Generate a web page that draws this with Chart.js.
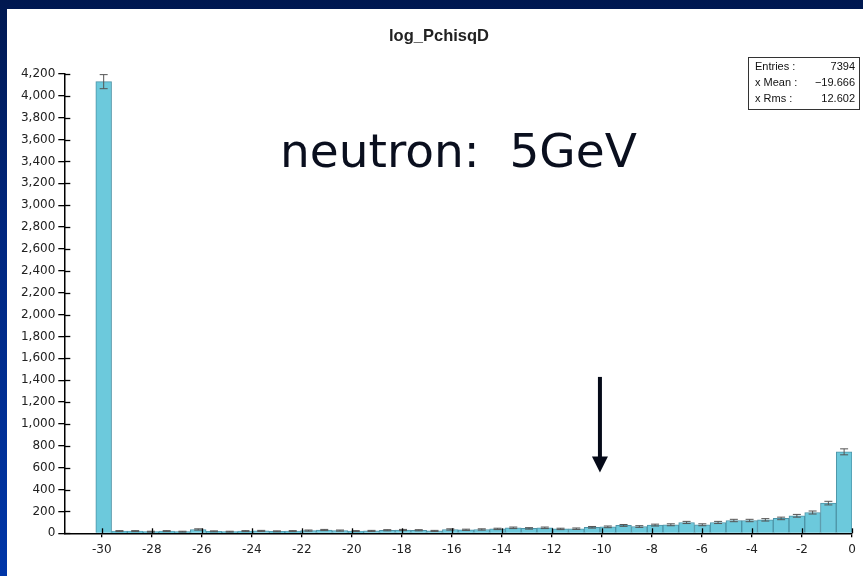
<!DOCTYPE html>
<html>
<head>
<meta charset="utf-8">
<script src="https://cdn.jsdelivr.net/npm/chart.js@4/dist/chart.umd.min.js"></script>
<style>
  html,body{margin:0;padding:0;}
  body{width:863px;height:576px;overflow:hidden;position:relative;
       background:linear-gradient(to bottom,#001850 0%,#00267e 40%,#0036a8 100%);}
  #wrap{position:absolute;left:7px;top:9px;width:856px;height:567px;background:#fff;}
  canvas{display:block;}
</style>
</head>
<body>
<div id="wrap"><canvas id="c" width="856" height="567"></canvas></div>
<script>
// ---- data ----
const binCenters = [-29.925,-29.295,-28.665,-28.035,-27.405,-26.775,-26.145,-25.515,-24.885,-24.255,
  -23.625,-22.995,-22.365,-21.735,-21.105,-20.475,-19.845,-19.215,-18.585,-17.955,
  -17.325,-16.695,-16.065,-15.435,-14.805,-14.175,-13.545,-12.915,-12.285,-11.655,
  -11.025,-10.395,-9.765,-9.135,-8.505,-7.875,-7.245,-6.615,-5.985,-5.355,
  -4.725,-4.095,-3.465,-2.835,-2.205,-1.575,-0.945,-0.315];
const counts = [4130,20,20,15,20,15,35,18,15,20,
  22,18,20,25,30,25,20,22,28,30,
  28,22,35,32,35,40,50,45,50,40,
  42,55,59,72,62,75,78,99,78,99,
  117,117,123,136,160,190,276,745];
const xTicks = [-30,-28,-26,-24,-22,-20,-18,-16,-14,-12,-10,-8,-6,-4,-2,0];
const yTicks = [0,200,400,600,800,1000,1200,1400,1600,1800,2000,2200,2400,2600,2800,3000,3200,3400,3600,3800,4000,4200];
const titleText = 'log_PchisqD';
const statsLabels = ['Entries :','x Mean :','x Rms :'];
const statsValues = ['7394','\u221219.666','12.602'];
const noteText = 'neutron:  5GeV';
const arrowX = -10.08, arrowTop = 1430, arrowTip = 555;

const FONT = '"DejaVu Sans", Verdana, sans-serif';

const extras = {
  id:'extras',
  afterDatasetsDraw(chart){
    const ctx = chart.ctx, xs = chart.scales.x, ys = chart.scales.y;
    ctx.save();
    // error bars
    ctx.strokeStyle = '#555'; ctx.lineWidth = 1;
    binCenters.forEach((c,i)=>{
      const n = counts[i]; if(!n) return;
      const e = Math.sqrt(n);
      const px = xs.getPixelForValue(c);
      const y1 = ys.getPixelForValue(n+e), y2 = ys.getPixelForValue(n-e);
      ctx.beginPath();
      ctx.moveTo(px,y1); ctx.lineTo(px,y2);
      ctx.moveTo(px-4,y1); ctx.lineTo(px+4,y1);
      ctx.moveTo(px-4,y2); ctx.lineTo(px+4,y2);
      ctx.stroke();
    });
    // inner tick parts
    ctx.strokeStyle = '#000'; ctx.lineWidth = 1.3;
    const ax = xs.left, ay = ys.bottom;
    yTicks.forEach(v=>{
      const py = Math.round(ys.getPixelForValue(v))+0.5;
      ctx.beginPath(); ctx.moveTo(ax,py); ctx.lineTo(ax+6,py); ctx.stroke();
    });
    xTicks.forEach(v=>{
      const px = Math.round(xs.getPixelForValue(v))+0.5;
      ctx.beginPath(); ctx.moveTo(px,ay); ctx.lineTo(px,ay-5); ctx.stroke();
    });
    // arrow
    const axp = xs.getPixelForValue(arrowX);
    const yt = ys.getPixelForValue(arrowTop), yp = ys.getPixelForValue(arrowTip);
    ctx.fillStyle = '#050a18'; ctx.strokeStyle = '#050a18';
    ctx.lineWidth = 4;
    ctx.beginPath(); ctx.moveTo(axp,yt); ctx.lineTo(axp,yp-14); ctx.stroke();
    ctx.beginPath(); ctx.moveTo(axp-8,yp-16); ctx.lineTo(axp+8,yp-16); ctx.lineTo(axp,yp); ctx.closePath(); ctx.fill();
    // title
    ctx.fillStyle = '#222';
    ctx.font = 'bold 16.5px "Liberation Sans", Arial, sans-serif';
    ctx.textAlign = 'center'; ctx.textBaseline = 'middle';
    ctx.fillText(titleText, 432, 27);
    // big note
    ctx.fillStyle = '#0a0f1e';
    ctx.font = '47px ' + FONT;
    ctx.textAlign = 'left'; ctx.textBaseline = 'alphabetic';
    ctx.fillText(noteText, 273, 158);
    // stats box
    const bx = 741, by = 48, bw = 111, bh = 52;
    ctx.fillStyle = '#fff'; ctx.fillRect(bx,by,bw,bh);
    ctx.strokeStyle = '#333'; ctx.lineWidth = 1;
    ctx.strokeRect(bx+0.5,by+0.5,bw,bh);
    ctx.fillStyle = '#111';
    ctx.font = '11px "Liberation Sans", Arial, sans-serif';
    ctx.textBaseline = 'middle';
    statsLabels.forEach((l,i)=>{
      const yy = by + 10 + i*16;
      ctx.textAlign = 'left'; ctx.fillText(l, bx+7, yy);
      ctx.textAlign = 'right'; ctx.fillText(statsValues[i], bx+bw-4, yy);
    });
    ctx.restore();
  }
};

new Chart(document.getElementById('c'), {
  type:'bar',
  data:{
    datasets:[{
      data: binCenters.map((c,i)=>({x:c,y:counts[i]})),
      backgroundColor:'#6cc9dc',
      borderColor:'#4d93a6',
      borderWidth:1,
      barPercentage:1,
      categoryPercentage:1,
      borderSkipped:'bottom'
    }]
  },
  options:{
    responsive:false,
    animation:false,
    events:[],
    layout:{padding:{left:0,right:11,top:65,bottom:0}},
    plugins:{
      legend:{display:false},
      tooltip:{enabled:false},
      title:{display:false}
    },
    scales:{
      x:{
        type:'linear',
        min:-31.5, max:0,
        offset:false,
        afterBuildTicks(s){ s.ticks = xTicks.map(v=>({value:v})); },
        afterFit(s){ s.height = 42.7; },
        grid:{display:true,offset:false,drawOnChartArea:false,drawTicks:true,tickLength:4,color:'#000',lineWidth:1.3},
        border:{display:true,color:'#000',width:1.5},
        ticks:{color:'#222',font:{family:FONT,size:12},padding:5,maxRotation:0,autoSkip:false}
      },
      y:{
        min:0, max:4200,
        afterBuildTicks(s){ s.ticks = yTicks.map(v=>({value:v})); },
        afterFit(s){ s.width = 57.3; },
        grid:{display:true,drawOnChartArea:false,drawTicks:true,tickLength:6,color:'#000',lineWidth:1.3},
        border:{display:true,color:'#000',width:1.5},
        ticks:{color:'#222',font:{family:FONT,size:12},padding:3,autoSkip:false,
          callback:(v)=>Number(v).toLocaleString('en-US')}
      }
    }
  },
  plugins:[extras]
});
</script>
</body>
</html>
